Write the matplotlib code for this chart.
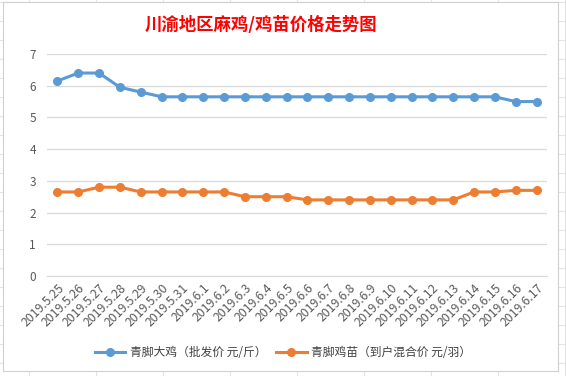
import numpy as np
import matplotlib.pyplot as plt
from matplotlib.patches import Rectangle

plt.rcParams['font.family'] = ['Noto Sans CJK SC', 'DejaVu Sans']

dates = ['2019.5.25', '2019.5.26', '2019.5.27', '2019.5.28', '2019.5.29',
         '2019.5.30', '2019.5.31', '2019.6.1', '2019.6.2', '2019.6.3',
         '2019.6.4', '2019.6.5', '2019.6.6', '2019.6.7', '2019.6.8',
         '2019.6.9', '2019.6.10', '2019.6.11', '2019.6.12', '2019.6.13',
         '2019.6.14', '2019.6.15', '2019.6.16', '2019.6.17']
chicken = [6.15, 6.4, 6.4, 5.95, 5.8, 5.65, 5.65, 5.65, 5.65, 5.65,
           5.65, 5.65, 5.65, 5.65, 5.65, 5.65, 5.65, 5.65, 5.65, 5.65,
           5.65, 5.65, 5.5, 5.5]
chick = [2.65, 2.65, 2.8, 2.8, 2.65, 2.65, 2.65, 2.65, 2.65, 2.5,
         2.5, 2.5, 2.4, 2.4, 2.4, 2.4, 2.4, 2.4, 2.4, 2.4,
         2.65, 2.65, 2.7, 2.7]
series_names = ['青脚大鸡（批发价 元/斤）', '青脚鸡苗（到户混合价 元/羽）']

fig = plt.figure(figsize=(5.66, 3.76), dpi=100)
W, H = 566, 376

# Excel-like cell lines behind the chart
for y in np.arange(2, H, 19):
    fig.add_artist(plt.Line2D([0, 1], [1 - y / H, 1 - y / H], color='#e4e4e4', lw=0.8, zorder=-3))
for x in np.arange(29, W, 67):
    fig.add_artist(plt.Line2D([x / W, x / W], [0, 1], color='#e4e4e4', lw=0.8, zorder=-3))
fig.add_artist(Rectangle((3 / W, 1 - 371 / H), 555 / W, 369 / H, transform=fig.transFigure,
                         facecolor='white', edgecolor='#d0d0d0', lw=0.8, zorder=-2))

ax = fig.add_axes([47 / W, 1 - 276 / H, (547 - 47) / W, (276 - 54) / H])
ax.set_facecolor('none')
x = np.arange(len(dates))
ax.plot(x, chicken, color='#5B9BD5', lw=2.2, marker='o', ms=5.5, label=series_names[0])
ax.plot(x, chick, color='#ED7D31', lw=2.2, marker='o', ms=5.5, label=series_names[1])

ax.set_xlim(-0.5, len(dates) - 0.5)
ax.set_ylim(0, 7)
ax.set_yticks(range(8))
ax.grid(axis='y', color='#d9d9d9', lw=0.9)
ax.set_axisbelow(True)
for s in ['top', 'right', 'left']:
    ax.spines[s].set_visible(False)
ax.spines['bottom'].set_color('#d9d9d9')
ax.tick_params(axis='both', length=0, colors='#595959', labelsize=8.5)
ax.tick_params(axis='y', pad=8)
ax.set_xticks(x)
ax.set_xticklabels(dates, rotation=45, ha='right', va='top', rotation_mode='anchor', fontsize=8.8)
ax.tick_params(axis='x', pad=4)

fig.text(261 / W, 1 - 25 / H, '川渝地区麻鸡/鸡苗价格走势图', color='red', fontsize=12.5,
         fontweight='bold', ha='center', va='center')
fig.legend(loc='center', bbox_to_anchor=(0.5, 1 - 353 / H), ncol=2, frameon=False,
           fontsize=8.5, labelcolor='#404040', handlelength=2.6, handletextpad=0.4,
           columnspacing=0.8)

fig.savefig('out.png', dpi=100)
